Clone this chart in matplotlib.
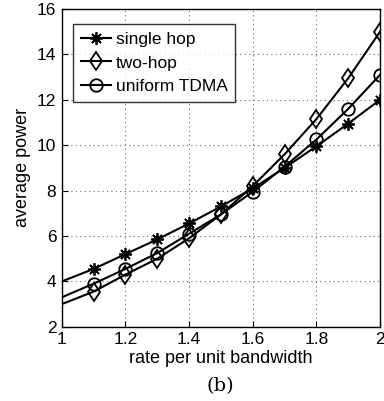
import matplotlib
matplotlib.use("Agg")
import matplotlib.pyplot as plt

plt.rcParams['font.family'] = ['Liberation Sans', 'DejaVu Sans']

rate = [1.0, 1.1, 1.2, 1.3, 1.4, 1.5, 1.6, 1.7, 1.8, 1.9, 2.0]
single_hop = [4.0, 4.55, 5.2, 5.85, 6.55, 7.3, 8.1, 9.0, 9.95, 10.95, 12.0]
two_hop = [3.0, 3.55, 4.3, 5.0, 5.9, 6.95, 8.2, 9.6, 11.15, 12.95, 15.0]
uniform_tdma = [3.3, 3.9, 4.55, 5.25, 6.1, 6.95, 7.95, 9.05, 10.25, 11.6, 13.1]

xticks = [1, 1.2, 1.4, 1.6, 1.8, 2]
xticklabels = ['1', '1.2', '1.4', '1.6', '1.8', '2']
yticks = [2, 4, 6, 8, 10, 12, 14, 16]

fig = plt.figure(figsize=(3.84, 4.01), dpi=100)
ax = fig.add_axes([0.161, 0.185, 0.829, 0.793])

marks = list(range(1, len(rate)))
ax.plot(rate, single_hop, color='k', lw=1.5, marker=(8, 2, 0), ms=9,
        mew=1.3, markevery=marks, label='single hop')
ax.plot(rate, two_hop, color='k', lw=1.5, marker='d', ms=9.5, mfc='none',
        mew=1.3, markevery=marks, label='two-hop')
ax.plot(rate, uniform_tdma, color='k', lw=1.5, marker='o', ms=9, mfc='none',
        mew=1.3, markevery=marks, label='uniform TDMA')

ax.set_xlim(1, 2)
ax.set_ylim(2, 16)
ax.set_xticks(xticks)
ax.set_xticklabels(xticklabels)
ax.set_yticks(yticks)
ax.tick_params(direction='in', labelsize=12.5, length=4, pad=4)
ax.grid(True, linestyle=(0, (1, 3)), color='#666666', lw=0.8)
for s in ax.spines.values():
    s.set_linewidth(1.0)

ax.set_xlabel('rate per unit bandwidth', fontsize=13, labelpad=2)
ax.set_ylabel('average power', fontsize=13, labelpad=4)

leg = ax.legend(loc='upper left', bbox_to_anchor=(0.035, 0.953), fontsize=12.5,
                frameon=True, fancybox=False, edgecolor='k', handlelength=1.75,
                handletextpad=0.25, borderpad=0.45, borderaxespad=0.0,
                labelspacing=0.5)
leg.get_frame().set_linewidth(1.0)

fig.text(0.575, 0.025, '(b)', fontsize=14, family='DejaVu Serif', ha='center')

fig.savefig('out.png', dpi=100)
